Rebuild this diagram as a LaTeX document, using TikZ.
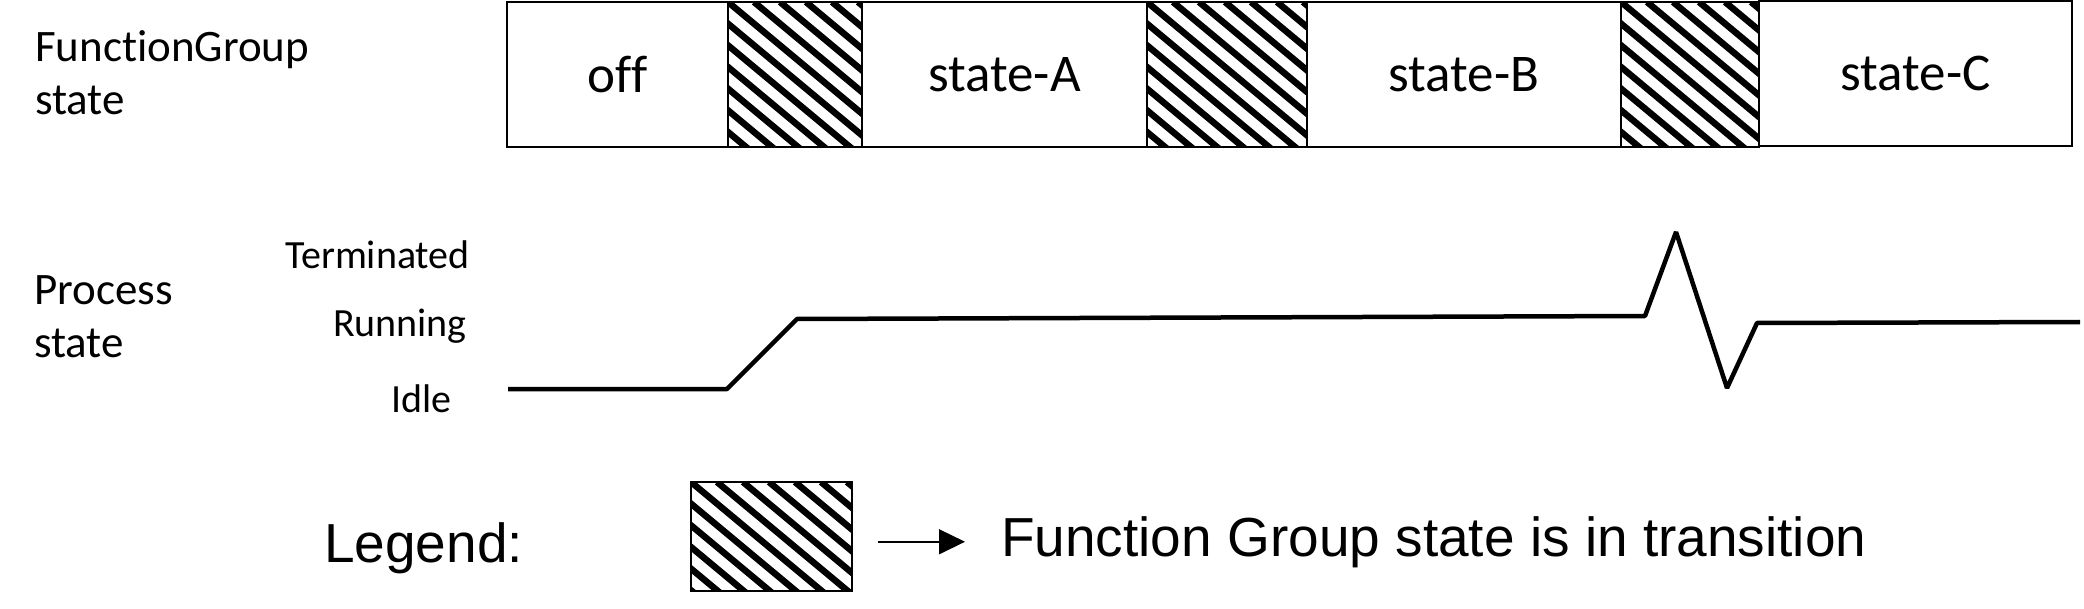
\documentclass[tikz,border=0pt]{standalone}
\usepackage{fontspec}
\setmainfont{Carlito}[Ligatures=NoCommon]
\newfontfamily\arialf{Liberation Sans}[Ligatures=NoCommon]
\usetikzlibrary{arrows.meta,calc}
\tikzset{
  statebox/.style={draw, line width=2.5pt, inner sep=0pt, minimum height=145pt,
    font=\fontsize{53}{60}\selectfont},
  hatchbox/.style={draw, line width=2.5pt, inner sep=0pt, minimum height=145pt,
    path picture={
      \foreach \k in {-14,...,10}
        \draw[line width=6.5pt] ($(path picture bounding box.north west)+(\k*26,0)$) -- ++(300,250);
    }},
  lbl/.style={inner sep=0pt, font=\fontsize{45}{53}\selectfont, align=left},
  lvl/.style={inner sep=0pt, font=\fontsize{40}{48}\selectfont, anchor=base east},
  legtext/.style={inner sep=0pt, font=\arialf\fontsize{55}{60}\selectfont, anchor=base west},
  signal/.style={line width=4.5pt, line join=bevel},
  arr/.style={line width=1.5pt, -{Triangle[length=26pt,width=25pt]}}
}
\begin{document}
\begin{tikzpicture}[x=1pt,y=-1pt]
\useasboundingbox (0,0) rectangle (2084,609);
% top row
\node[statebox, minimum width=221pt] (off) at (617.5,74.5) {off};
\node[hatchbox, minimum width=134pt] (h1) at (795,74.5) {};
\node[statebox, minimum width=285pt] (sA) at (1004.5,74.5) {state-A};
\node[hatchbox, minimum width=160pt] (h2) at (1227,74.5) {};
\node[statebox, minimum width=314pt] (sB) at (1464,74.5) {state-B};
\node[hatchbox, minimum width=138pt] (h3) at (1690,74.5) {};
\node[statebox, minimum width=313pt, minimum height=145pt] (sC) at (1915.5,73.5) {state-C};
% left labels (base anchor = last line)
\node[lbl, anchor=base west] (fg) at (35,115) {FunctionGroup\\state};
\node[lbl, anchor=base west] (ps) at (34,357) {Process\\state};
\node[lvl] (term) at (470,269) {Terminated};
\node[lvl] (run) at (467,337) {Running};
\node[lvl] (idle) at (452,412) {Idle};
% process signal
\draw[signal] (508,389) -- (727,389) -- (797,319) -- (1645,316) -- (1676,232)
  -- (1727,388) -- (1757,323) -- (2080,322);
% legend
\node[legtext] (leg) at (324,562) {Legend:};
\node[hatchbox, minimum width=161pt, minimum height=109pt] (lg) at (771.5,536.5) {};
\node[legtext] (txt) at (1001,556) {Function Group state is in transition};
\draw[arr, shorten <=25pt, shorten >=36pt] (lg.east |- txt.west) -- (txt.west);
\end{tikzpicture}
\end{document}
